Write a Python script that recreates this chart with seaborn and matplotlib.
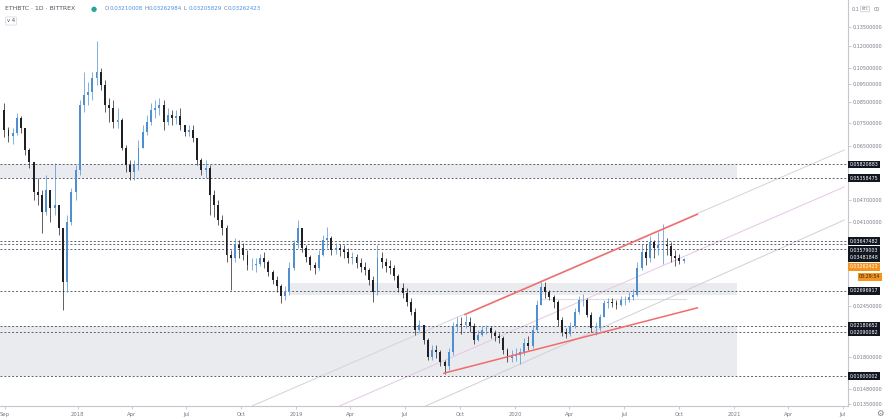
import numpy as np
import pandas as pd
import matplotlib
matplotlib.use('Agg')
import matplotlib.pyplot as plt
import matplotlib.ticker as mticker
import seaborn as sns

sns.set_style('white')
plt.rcParams['font.family'] = ['DejaVu Sans']

# weekly candles, prices in mBTC (1e-3 BTC)
week_start = pd.date_range('2017-08-28', periods=163, freq='7D')
first_open = 81.2
close = [
    71.8, 69.3, 70.5, 77.3, 72.7, 63.6, 59.1, 49.2, 48.3, 43.6,
    49.8, 44.6, 45.5, 39.5, 28.4, 41.0, 49.2, 56.3, 83.7, 88.9,
    90.6, 98.7, 102.3, 94.5, 83.7, 82.2, 75.4, 76.4, 64.4, 58.0,
    55.6, 58.0, 64.4, 71.0, 75.4, 81.2, 82.2, 83.7, 75.4, 78.7,
    77.3, 78.2, 74.1, 71.0, 71.8, 68.4, 59.8, 56.3, 57.0, 48.3,
    45.5, 41.5, 39.5, 33.5, 32.9, 35.6, 35.0, 33.5, 31.5, 31.5,
    31.7, 32.9, 32.1, 30.2, 28.8, 27.7, 26.1, 26.8, 31.0, 36.1,
    39.5, 35.0, 33.1, 31.5, 31.0, 33.5, 36.7, 37.2, 34.6, 35.0,
    34.6, 34.2, 32.9, 33.1, 31.9, 31.1, 30.6, 28.8, 26.8, 32.9,
    32.1, 31.3, 31.0, 29.5, 27.4, 26.6, 25.2, 23.7, 21.2, 21.9,
    20.0, 18.0, 18.8, 18.6, 17.5, 17.0, 18.6, 21.6, 22.0, 21.9,
    22.3, 21.7, 20.0, 20.6, 21.2, 21.5, 20.8, 20.4, 20.2, 18.8,
    17.9, 18.1, 18.2, 18.6, 19.6, 19.2, 21.2, 24.7, 27.6, 26.8,
    25.9, 25.2, 22.6, 21.0, 20.7, 21.7, 23.7, 25.5, 25.5, 23.3,
    21.5, 21.5, 22.9, 25.0, 25.2, 25.0, 24.7, 25.5, 25.5, 25.9,
    26.3, 31.0, 34.2, 32.9, 36.3, 35.0, 35.6, 35.6, 35.4, 33.3,
    32.9, 32.3, 32.62]
high = [
    84.7, 73.1, 72.7, 79.7, 78.2, 72.7, 64.4, 57.0, 53.6, 49.8,
    54.6, 48.3, 58.7, 45.5, 39.5, 42.8, 50.4, 58.0, 86.3, 102.3,
    96.3, 102.3, 123.6, 104.9, 97.5, 87.3, 86.3, 82.2, 77.3, 65.6,
    59.8, 59.8, 67.6, 74.1, 78.7, 84.7, 86.3, 87.3, 86.3, 82.2,
    81.2, 81.2, 82.2, 74.1, 74.1, 74.1, 68.4, 60.5, 59.8, 58.0,
    49.8, 46.9, 42.8, 40.3, 34.6, 37.2, 36.7, 36.1, 34.6, 32.9,
    32.9, 33.7, 34.2, 32.5, 30.6, 29.5, 28.1, 27.7, 32.1, 36.7,
    41.5, 39.0, 35.6, 33.5, 32.1, 34.6, 37.9, 39.8, 37.6, 36.1,
    35.8, 35.6, 35.0, 34.2, 33.7, 32.9, 32.1, 31.0, 29.5, 35.6,
    34.2, 32.9, 32.5, 31.5, 29.8, 28.2, 27.4, 25.8, 24.3, 22.6,
    21.9, 20.2, 19.4, 19.4, 18.8, 17.7, 19.0, 22.3, 22.9, 22.9,
    23.3, 22.9, 22.2, 21.2, 21.7, 21.9, 21.7, 21.2, 20.8, 20.5,
    19.0, 18.8, 19.0, 19.0, 20.2, 20.5, 21.9, 25.5, 28.4, 28.4,
    27.1, 26.3, 25.5, 22.9, 21.5, 22.3, 24.3, 26.1, 26.5, 25.8,
    23.7, 22.3, 23.4, 25.5, 25.8, 25.8, 25.5, 26.1, 26.1, 26.8,
    27.3, 32.1, 35.8, 35.8, 37.6, 36.7, 38.6, 40.5, 37.2, 36.3,
    34.6, 33.7, 33.0]
low = [
    68.9, 66.8, 66.0, 69.7, 70.5, 61.7, 57.0, 46.9, 45.5, 38.3,
    42.8, 41.0, 42.8, 37.9, 24.0, 26.8, 40.3, 46.9, 54.6, 80.2,
    83.7, 86.3, 94.5, 91.7, 80.2, 75.4, 72.7, 72.7, 63.6, 55.6,
    53.0, 53.0, 56.3, 65.6, 69.7, 74.1, 77.3, 78.7, 71.8, 74.1,
    74.1, 74.6, 71.8, 69.3, 69.3, 66.8, 58.0, 54.6, 53.6, 42.8,
    42.3, 40.3, 37.9, 32.1, 27.1, 32.1, 32.9, 32.5, 30.6, 30.6,
    30.2, 31.3, 31.0, 29.5, 28.1, 26.8, 25.0, 25.5, 26.3, 30.6,
    35.0, 34.2, 32.1, 30.6, 29.8, 30.6, 33.3, 35.0, 33.5, 33.7,
    33.3, 32.9, 31.9, 31.7, 31.0, 30.2, 29.7, 27.9, 25.2, 26.3,
    31.0, 30.2, 29.8, 28.8, 26.8, 25.8, 24.6, 23.3, 20.6, 20.9,
    19.5, 17.7, 17.7, 17.9, 17.0, 16.2, 16.6, 18.2, 21.0, 20.7,
    21.5, 21.0, 19.5, 19.8, 20.5, 20.7, 20.2, 19.8, 19.6, 18.3,
    17.5, 17.5, 17.6, 17.2, 18.2, 18.8, 19.0, 21.0, 24.7, 25.8,
    25.5, 24.3, 21.7, 20.5, 20.2, 20.5, 21.5, 23.4, 24.6, 22.9,
    21.0, 20.6, 21.1, 22.9, 24.3, 24.4, 24.1, 24.6, 24.7, 25.2,
    25.5, 26.1, 30.6, 31.5, 32.1, 32.9, 33.5, 31.7, 33.5, 32.1,
    31.3, 31.7, 31.9]

# horizontal levels drawn on the chart
levels = [0.05820883, 0.05358475, 0.03647482, 0.03579003, 0.03481848,
          0.02696917, 0.02180652, 0.02090082, 0.01600002]
last_price = 0.03262423
countdown = '08:29:54'

# shaded zones: start, end, bottom, top
zone_start = ['2017-08-24', '2018-12-21', '2017-08-24']
zone_end = ['2021-01-05', '2021-01-05', '2021-01-05']
zone_bottom = [0.05358475, 0.0263, 0.01600002]
zone_top = [0.05820883, 0.0283, 0.02180652]

# channel lines (red) and parallel gray lines
red_dates = [['2019-10-09', '2020-11-01'], ['2019-09-04', '2020-11-01']]
red_prices = [[0.0233, 0.0430], [0.0163, 0.0243]]
diag_dates = [['2018-10-19', '2021-07-04'], ['2019-03-14', '2021-07-04'], ['2019-08-05', '2021-07-04']]
diag_prices = [[0.01335, 0.0636], [0.01335, 0.0508], [0.01335, 0.0415]]
diag_colors = ['#d3d3da', '#e6c6e6', '#cfcfd6']

yticks = [0.135, 0.12, 0.105, 0.095, 0.085, 0.075, 0.065, 0.047, 0.041,
          0.0245, 0.018, 0.0148, 0.0135]
xtick_dates = ['2017-09-01', '2018-01-01', '2018-04-01', '2018-07-01', '2018-10-01',
               '2019-01-01', '2019-04-01', '2019-07-01', '2019-10-01', '2020-01-01',
               '2020-04-01', '2020-07-01', '2020-10-01', '2021-01-01', '2021-04-01',
               '2021-07-01']
xtick_labels = ['Sep', '2018', 'Apr', 'Jul', 'Oct', '2019', 'Apr', 'Jul', 'Oct', '2020',
                'Apr', 'Jul', 'Oct', '2021', 'Apr', 'Jul']

W, H = 885, 419
fig = plt.figure(figsize=(W / 100, H / 100), dpi=100)
ax = fig.add_axes([0, 13 / H, 848 / W, 406 / H])

def fx(x):
    return x / W

def fy(y):
    return 1 - y / H

c = np.array(close) / 1000
hi = np.array(high) / 1000
lo = np.array(low) / 1000
o = np.concatenate([[first_open / 1000], c[:-1]])
hi = np.maximum(hi, np.maximum(o, c))
lo = np.minimum(lo, np.minimum(o, c))
mid = week_start + pd.Timedelta(hours=84)
up = c >= o
cols = np.where(up, '#4f8fd0', '#1f2026')

x0 = pd.Timestamp('2017-08-24 08:00')
x1 = pd.Timestamp('2021-07-10')

# zones
for s, e, b, t in zip(zone_start, zone_end, zone_bottom, zone_top):
    ax.fill_between([pd.Timestamp(s), pd.Timestamp(e)], b, t, color='#eaebef', lw=0, zorder=0)
ax.plot([pd.Timestamp('2020-02-14'), pd.Timestamp('2020-10-12')], [0.0256, 0.0256],
        color='#dcdce2', lw=0.8, zorder=0.5)

# diagonal lines
for d, p, col in zip(diag_dates, diag_prices, diag_colors):
    sns.lineplot(x=pd.to_datetime(d), y=p, ax=ax, color=col, lw=0.7, zorder=1)

# levels
for lv in levels:
    ax.axhline(lv, color='#5d606b', lw=0.7, ls=(0, (2, 2)), zorder=1)

# candles
ax.vlines(mid, lo, hi, colors=cols, lw=0.5, zorder=3)
ax.bar(mid, np.maximum(np.abs(c - o), 0.00005), bottom=np.minimum(o, c), width=3.2,
       color=cols, lw=0, zorder=3)

# red channel
for d, p in zip(red_dates, red_prices):
    sns.lineplot(x=pd.to_datetime(d), y=p, ax=ax, color='#f26b6b', lw=1.1, zorder=4)

ax.set_yscale('log')
ax.set_ylim(0.01335, 0.1587)
ax.set_xlim(x0, x1)
ax.yaxis.tick_right()
ax.yaxis.set_major_locator(mticker.FixedLocator(yticks))
ax.yaxis.set_minor_locator(mticker.NullLocator())
ax.yaxis.set_major_formatter(mticker.FuncFormatter(lambda v, p: '%.8f' % v))
ax.set_xticks(pd.to_datetime(xtick_dates))
ax.set_xticklabels(xtick_labels)
ax.tick_params(axis='y', right=True, left=False, length=2, width=0.5, color='#b2b5be',
               labelsize=3.5, labelcolor='#787b86', pad=1.5)
ax.tick_params(axis='x', bottom=True, length=2, width=0.5, color='#b2b5be',
               labelsize=3.8, labelcolor='#787b86', pad=2)
ax.set_xlabel('')
ax.set_ylabel('')
for side in ['top', 'left']:
    ax.spines[side].set_visible(False)
for side in ['right', 'bottom']:
    ax.spines[side].set_color('#c5c7cf')
    ax.spines[side].set_linewidth(0.8)

# top price label, partly covered by the currency badge
fig.text(fx(851.5), fy(9.4), '0.1', fontsize=3.5, color='#787b86', va='center')
fig.text(fx(873.5), fy(9.4), '00', fontsize=3.5, color='#787b86', va='center')
fig.text(fx(865), fy(9.0), 'BTC', fontsize=2.8, color='#787b86', va='center', ha='center',
         bbox=dict(boxstyle='round,pad=0.2', fc='white', ec='#c5c7cf', lw=0.5))

# price-axis labels for the levels
shift = [0, 0, 0, -4.3, -6.6, 0, 0, 0, 0]
for lv, dy in zip(levels, shift):
    ax.annotate('%.8f' % lv, xy=(1, lv), xycoords=('axes fraction', 'data'),
                xytext=(1.2, dy), textcoords='offset points', va='center', ha='left',
                fontsize=3.4, color='white',
                bbox=dict(boxstyle='square,pad=0.3', fc='#131722', ec='none'))
ax.annotate('%.8f' % last_price, xy=(1, last_price), xycoords=('axes fraction', 'data'),
            xytext=(1.2, -5.4), textcoords='offset points', va='center', ha='left',
            fontsize=3.4, color='white',
            bbox=dict(boxstyle='square,pad=0.3', fc='#f7941d', ec='none'))
ax.annotate(countdown, xy=(1, last_price), xycoords=('axes fraction', 'data'),
            xytext=(8.0, -12.6), textcoords='offset points', va='center', ha='left',
            fontsize=3.4, color='#222222',
            bbox=dict(boxstyle='square,pad=0.3', fc='#f7941d', ec='none'))

# header
fig.text(fx(5), fy(9), 'ETHBTC · 1D · BITTREX', fontsize=4.4, color='#50535e', va='center')
fig.text(fx(91), fy(9), '●', fontsize=5, color='#26a69a', va='center')
ohlc = [('O', '0.03210008'), ('H', '0.03262984'), ('L', '0.03205829'), ('C', '0.03262423')]
for k, (a, b) in enumerate(ohlc):
    xs = 105 + 39.5 * k
    fig.text(fx(xs), fy(9), a, fontsize=4.0, color='#787b86', va='center')
    fig.text(fx(xs + 4.3), fy(9), b, fontsize=4.0, color='#4a90e2', va='center')
fig.text(fx(11), fy(21), 'v 4', fontsize=3.8, color='#50535e', va='center', ha='center',
         bbox=dict(boxstyle='round,pad=0.3', fc='white', ec='#d1d4dc', lw=0.5))
fig.text(fx(880), fy(413), '⚙', fontsize=6, color='#787b86', va='center', ha='center')

fig.savefig('out.png', dpi=100)
